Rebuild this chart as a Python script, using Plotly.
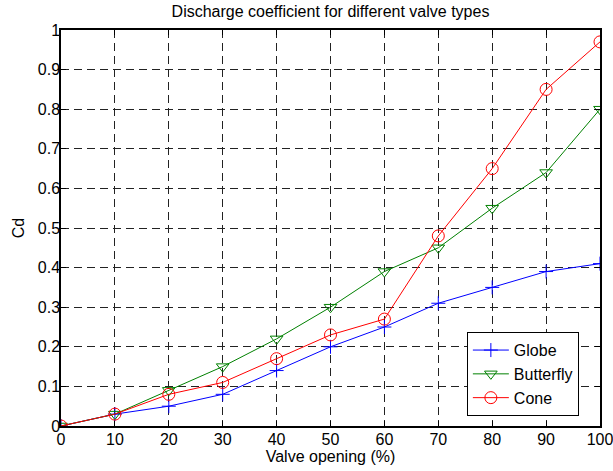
import plotly.graph_objects as go

opening = [0, 10, 20, 30, 40, 50, 60, 70, 80, 90, 100]
globe = [0, 0.03, 0.05, 0.08, 0.14, 0.20, 0.25, 0.31, 0.35, 0.39, 0.41]
butterfly = [0, 0.03, 0.09, 0.15, 0.22, 0.30, 0.39, 0.45, 0.55, 0.64, 0.80]
cone = [0, 0.03, 0.08, 0.11, 0.17, 0.23, 0.27, 0.48, 0.65, 0.85, 0.97]

x_ticks = [0, 10, 20, 30, 40, 50, 60, 70, 80, 90, 100]
y_ticks = [0, 0.1, 0.2, 0.3, 0.4, 0.5, 0.6, 0.7, 0.8, 0.9, 1]
y_tick_labels = ["0", "0.1", "0.2", "0.3", "0.4", "0.5", "0.6", "0.7", "0.8", "0.9", "1"]

fig = go.Figure()
fig.add_trace(go.Scatter(x=opening, y=globe, name="Globe", mode="lines+markers",
                         line=dict(color="#0000ff", width=1),
                         marker=dict(symbol="cross-thin", size=10, color="#0000ff",
                                     line=dict(color="#0000ff", width=1))))
fig.add_trace(go.Scatter(x=opening, y=butterfly, name="Butterfly", mode="lines+markers",
                         line=dict(color="#008000", width=1),
                         marker=dict(symbol="triangle-down-open", size=11, color="#008000",
                                     line=dict(color="#008000", width=1))))
fig.add_trace(go.Scatter(x=opening, y=cone, name="Cone", mode="lines+markers",
                         line=dict(color="#ff0000", width=1),
                         marker=dict(symbol="circle-open", size=12, color="#ff0000",
                                     line=dict(color="#ff0000", width=1))))

axis_common = dict(showline=True, linecolor="black", linewidth=1.5, mirror="ticks",
                   ticks="inside", ticklen=5, tickcolor="black",
                   showgrid=True, gridcolor="#222222", griddash="8px,5px", gridwidth=1,
                   zeroline=False, tickfont=dict(size=16, color="black"),
                   automargin=False, ticklabeloverflow="allow")

fig.update_xaxes(range=[0, 100], tickvals=x_ticks, ticklabelstandoff=-2,
                 title=dict(text="Valve opening (%)", font=dict(size=16, color="black"), standoff=4),
                 **axis_common)
fig.update_yaxes(range=[0, 1], tickvals=y_ticks, ticktext=y_tick_labels, ticklabelstandoff=-4,
                 title=dict(text="Cd", font=dict(size=16, color="black"), standoff=9),
                 **axis_common)

fig.update_layout(
    width=613, height=471,
    margin=dict(l=61, r=13, t=30, b=45),
    paper_bgcolor="white", plot_bgcolor="white",
    font=dict(family="Arial, Liberation Sans, sans-serif", size=16, color="black"),
    title=dict(text="Discharge coefficient for different valve types", x=0.5, xanchor="center",
               xref="paper", y=0.975, yanchor="middle", font=dict(size=16, color="black")),
    legend=dict(x=0.753, y=0.237, xanchor="left", yanchor="top",
                bgcolor="white", bordercolor="black", borderwidth=1,
                font=dict(size=16, color="black"), tracegroupgap=0, itemwidth=36),
    showlegend=True,
)

# remove the default 8px page margin so the figure fills the window exactly
fig.write_html("out.html", config={"displayModeBar": False},
               post_script="document.body.style.margin='0px';")
